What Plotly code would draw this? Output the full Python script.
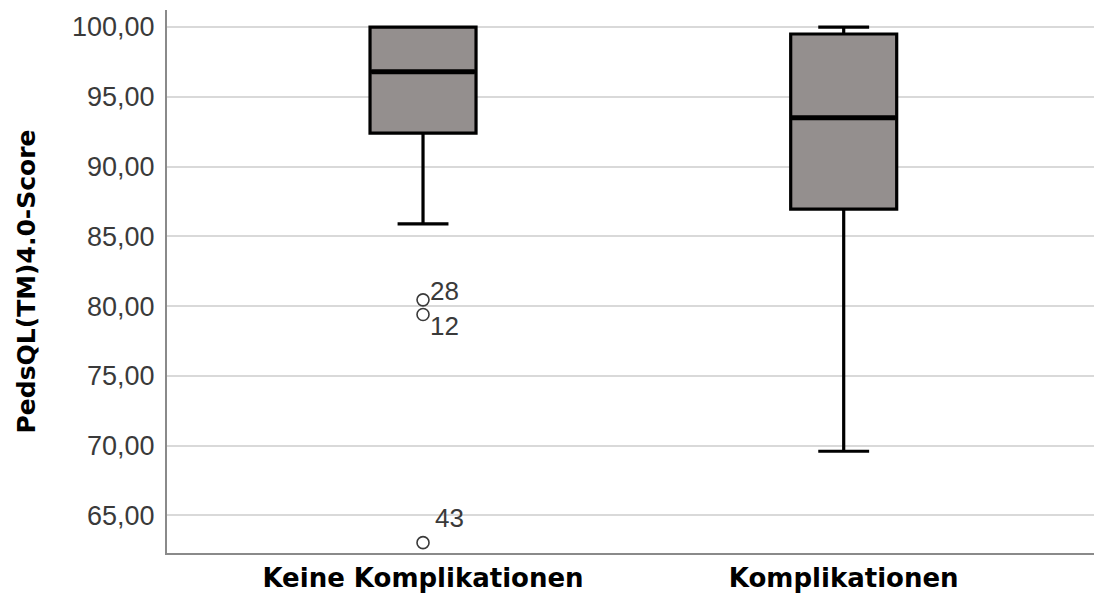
import plotly.graph_objects as go

# Summary statistics of the PedsQL 4.0 score per group
groups = ["Keine Komplikationen", "Komplikationen"]
q1 = [92.40, 86.95]
median = [96.80, 93.50]
q3 = [100.00, 99.50]
lower_whisker = [85.90, 69.60]
upper_whisker = [100.00, 100.00]

# Outlying cases (case number, group, score)
outlier_ids = ["28", "12", "43"]
outlier_groups = ["Keine Komplikationen", "Keine Komplikationen", "Keine Komplikationen"]
outlier_scores = [80.45, 79.40, 63.05]

y_ticks = [65, 70, 75, 80, 85, 90, 95, 100]

W, H = 1094, 597
BOX_WIDTH = 0.252
fig = go.Figure()

fig.add_trace(go.Box(
    x=groups,
    q1=q1, median=median, q3=q3,
    lowerfence=lower_whisker, upperfence=upper_whisker,
    boxpoints=False,
    width=BOX_WIDTH,
    whiskerwidth=0.48,
    fillcolor="#948f8e",
    line=dict(color="#000000", width=3.2),
    showlegend=False,
    hoverinfo="skip",
))

# Heavier median stroke, drawn as a flat box on top of the median
fig.add_trace(go.Box(
    x=groups,
    q1=median, median=median, q3=median,
    lowerfence=median, upperfence=median,
    boxpoints=False,
    width=BOX_WIDTH - 0.006,
    whiskerwidth=0,
    fillcolor="rgba(0,0,0,0)",
    line=dict(color="#000000", width=5),
    showlegend=False,
    hoverinfo="skip",
))

fig.add_trace(go.Scatter(
    x=outlier_groups, y=outlier_scores,
    mode="markers",
    marker=dict(symbol="circle-open", size=12, color="#3a3a3a", line=dict(width=1.6)),
    showlegend=False,
    hoverinfo="skip",
))

# Case labels beside the outliers
label_offsets = {"28": (21, 9), "12": (21, -11), "43": (26, 25)}
for cid, grp, val in zip(outlier_ids, outlier_groups, outlier_scores):
    dx, dy = label_offsets[cid]
    fig.add_annotation(
        x=grp, y=val, text=cid, showarrow=False,
        xshift=dx, yshift=dy,
        font=dict(family="Liberation Sans", size=26, color="#3a3a3a"),
    )

left, right, top, bottom = 167, 0, 10, 44
plot_w = W - left - right
fig.add_annotation(
    text="PedsQL(TM)4.0-Score",
    xref="paper", yref="paper",
    x=(26 - left) / plot_w, xanchor="center",
    y=0.5, yanchor="middle",
    textangle=-90, showarrow=False,
    font=dict(family="DejaVu Sans", size=25, color="#000000", weight="bold"),
)

fig.update_layout(
    width=W, height=H,
    margin=dict(l=left, r=right, t=top, b=bottom),
    paper_bgcolor="white", plot_bgcolor="white",
    separators=",.",
    boxmode="overlay",
    xaxis=dict(
        type="category",
        range=[-0.6086, 1.595],
        showgrid=False,
        showline=True, linecolor="#8a8a8a", linewidth=2,
        ticks="",
        tickfont=dict(family="DejaVu Sans", size=26, color="#000000", weight="bold"),
        ticklabelstandoff=1,
        zeroline=False,
    ),
    yaxis=dict(
        range=[62.31, 101.22],
        tickvals=y_ticks,
        tickformat=".2f",
        showgrid=True, gridcolor="#d9d9d9", gridwidth=2,
        showline=True, linecolor="#8a8a8a", linewidth=2,
        ticks="",
        tickfont=dict(family="Liberation Sans", size=27, color="#3a3a3a"),
        ticklabelstandoff=5,
        zeroline=False,
    ),
)

fig.write_html("out.html")
